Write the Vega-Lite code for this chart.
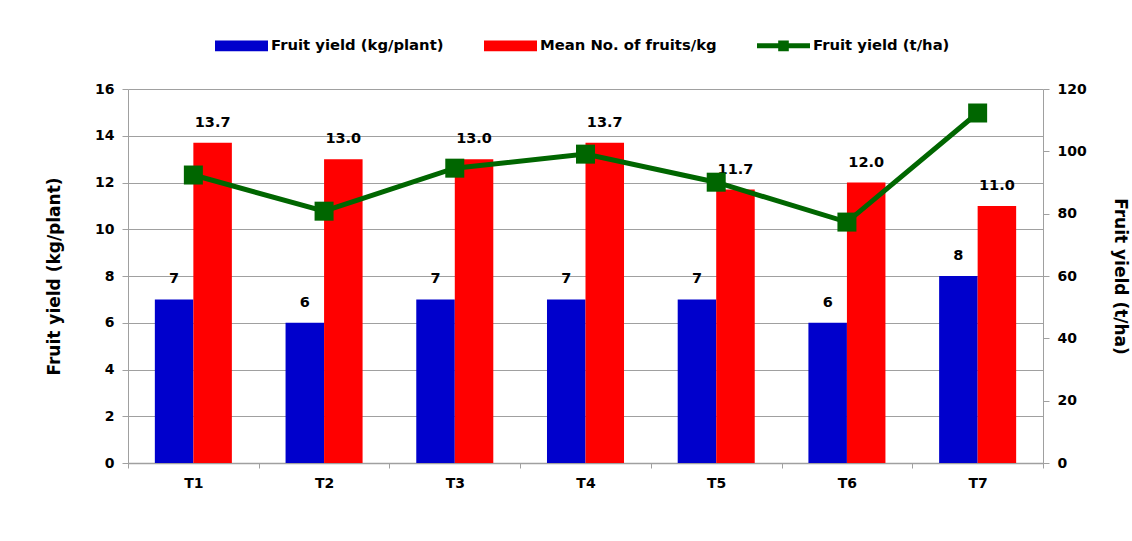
{
  "$schema": "https://vega.github.io/schema/vega-lite/v6.json",
  "width": 915,
  "height": 374,
  "autosize": {"type": "none"},
  "padding": {"left": 128, "top": 89, "right": 89, "bottom": 78},
  "background": "white",
  "config": {
    "font": "DejaVu Sans",
    "view": {"stroke": null},
    "axis": {
      "labelFont": "DejaVu Sans",
      "labelFontWeight": "bold",
      "labelFontSize": 14,
      "labelColor": "black",
      "titleFont": "DejaVu Sans",
      "titleFontWeight": "bold",
      "titleFontSize": 17,
      "titleColor": "black",
      "domainColor": "#a0a0a0",
      "tickColor": "#a0a0a0",
      "gridColor": "#a0a0a0",
      "gridOpacity": 1
    }
  },
  "datasets": {
    "bars": [
      {"t": "T1", "series": "Fruit yield (kg/plant)", "value": 7},
      {"t": "T2", "series": "Fruit yield (kg/plant)", "value": 6},
      {"t": "T3", "series": "Fruit yield (kg/plant)", "value": 7},
      {"t": "T4", "series": "Fruit yield (kg/plant)", "value": 7},
      {"t": "T5", "series": "Fruit yield (kg/plant)", "value": 7},
      {"t": "T6", "series": "Fruit yield (kg/plant)", "value": 6},
      {"t": "T7", "series": "Fruit yield (kg/plant)", "value": 8},
      {"t": "T1", "series": "Mean No. of fruits/kg", "value": 13.7},
      {"t": "T2", "series": "Mean No. of fruits/kg", "value": 13.0},
      {"t": "T3", "series": "Mean No. of fruits/kg", "value": 13.0},
      {"t": "T4", "series": "Mean No. of fruits/kg", "value": 13.7},
      {"t": "T5", "series": "Mean No. of fruits/kg", "value": 11.7},
      {"t": "T6", "series": "Mean No. of fruits/kg", "value": 12.0},
      {"t": "T7", "series": "Mean No. of fruits/kg", "value": 11.0}
    ],
    "line": [
      {"t": "T1", "tha": 92.4},
      {"t": "T2", "tha": 80.8},
      {"t": "T3", "tha": 94.6},
      {"t": "T4", "tha": 99.1},
      {"t": "T5", "tha": 90.1},
      {"t": "T6", "tha": 77.3},
      {"t": "T7", "tha": 112.3}
    ]
  },
  "encoding": {
    "x": {
      "field": "t",
      "type": "nominal",
      "scale": {"paddingInner": 0, "paddingOuter": 0},
      "axis": {
        "title": null,
        "labelAngle": 0,
        "ticks": true,
        "tickBand": "extent",
        "tickSize": 5,
        "labelPadding": 8,
        "domainColor": "#a0a0a0",
        "domainWidth": 1.5
      }
    }
  },
  "layer": [
    {
      "data": {"name": "bars"},
      "encoding": {
        "xOffset": {
          "field": "series",
          "type": "nominal",
          "sort": ["Fruit yield (kg/plant)", "Mean No. of fruits/kg"],
          "scale": {"paddingInner": 0, "paddingOuter": 0.697}
        },
        "y": {
          "field": "value",
          "type": "quantitative",
          "scale": {"domain": [0, 16]},
          "axis": {
            "title": "Fruit yield (kg/plant)",
            "values": [0, 2, 4, 6, 8, 10, 12, 14, 16],
            "grid": true,
            "tickSize": 6,
            "labelPadding": 8,
            "titlePadding": 31
          }
        }
      },
      "layer": [
        {
          "mark": {"type": "bar"},
          "encoding": {
            "color": {
              "field": "series",
              "type": "nominal",
              "scale": {
                "domain": ["Fruit yield (kg/plant)", "Mean No. of fruits/kg", "Fruit yield (t/ha)"],
                "range": ["#0000CC", "#FF0000", "#006600"]
              },
              "legend": {
                "orient": "none",
                "legendX": 87,
                "legendY": -70,
                "direction": "horizontal",
                "title": null,
                "labelFont": "DejaVu Sans",
                "labelFontWeight": "bold",
                "labelFontSize": 14.8,
                "labelColor": "black",
                "labelLimit": 400,
                "symbolSize": 2809,
                "symbolType": "M-1,-0.2H1V0.2H-1Z",
                "columnPadding": 40,
                "labelOffset": 3,
                "symbolStrokeWidth": 0,
                "encode": {
                  "symbols": {
                    "update": {
                      "shape": {"signal": "datum.value === 'Fruit yield (t/ha)' ? 'M-1,-0.094H1V0.094H-1ZM-0.2,-0.2H0.2V0.2H-0.2Z' : 'M-1,-0.2H1V0.2H-1Z'"},
                      "strokeWidth": {"value": 0},
                      "fill": {"scale": "color", "field": "value"},
                      "opacity": {"value": 1},
                      "fillOpacity": {"value": 1}
                    }
                  }
                }
              }
            }
          }
        },
        {
          "transform": [{"filter": "datum.series === 'Fruit yield (kg/plant)'"}],
          "mark": {"type": "text", "fontWeight": "bold", "fontSize": 14.5, "color": "black", "baseline": "middle", "dy": -20},
          "encoding": {"text": {"field": "value", "type": "quantitative", "format": ".0f"}}
        },
        {
          "transform": [{"filter": "datum.series === 'Mean No. of fruits/kg'"}],
          "mark": {"type": "text", "fontWeight": "bold", "fontSize": 14.5, "color": "black", "baseline": "middle", "dy": -20},
          "encoding": {"text": {"field": "value", "type": "quantitative", "format": ".1f"}}
        }
      ]
    },
    {
      "data": {"name": "line"},
      "mark": {
        "type": "line",
        "strokeWidth": 5,
        "point": {"shape": "square", "size": 361, "filled": true, "opacity": 1}
      },
      "encoding": {
        "y": {
          "field": "tha",
          "type": "quantitative",
          "scale": {"domain": [0, 120]},
          "axis": {
            "orient": "right",
            "title": "Fruit yield (t/ha)",
            "values": [0, 20, 40, 60, 80, 100, 120],
            "grid": false,
            "tickSize": 6,
            "labelPadding": 8,
            "titlePadding": 24
          }
        },
        "color": {"datum": "Fruit yield (t/ha)"}
      }
    }
  ],
  "resolve": {"scale": {"y": "independent"}}
}
